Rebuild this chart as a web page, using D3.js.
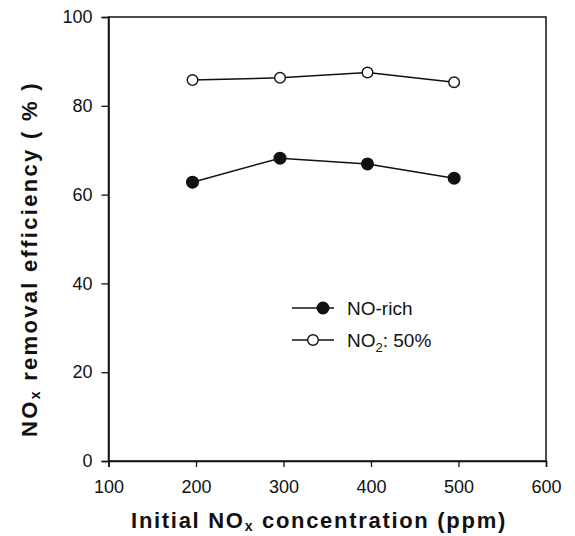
<!DOCTYPE html>
<html>
<head>
<meta charset="utf-8">
<script src="https://cdn.jsdelivr.net/npm/d3@7"></script>
<style>
body { margin: 0; background: #fff; }
text { font-family: Arial, "Liberation Sans", Helvetica, sans-serif; fill: #111; }
</style>
</head>
<body>
<div id="chart"></div>
<script>
// data
var concentration = [196, 296, 396, 495];
var noRich = [62.8, 68.2, 66.9, 63.7];
var no2Half = [85.8, 86.3, 87.5, 85.3];
var xTicks = [100, 200, 300, 400, 500, 600];
var yTicks = [0, 20, 40, 60, 80, 100];
var seriesNames = ["NO-rich", "NO2: 50%"];

var width = 575, height = 536;
var margin = {left: 108.5, right: 29, top: 17, bottom: 75};

var svg = d3.select("#chart").append("svg")
    .attr("width", width).attr("height", height);

var x = d3.scaleLinear().domain([100, 600]).range([margin.left, width - margin.right]);
var y = d3.scaleLinear().domain([0, 100]).range([height - margin.bottom, margin.top]);

// frame
svg.append("rect")
    .attr("x", x(100)).attr("y", y(100))
    .attr("width", x(600) - x(100)).attr("height", y(0) - y(100))
    .attr("fill", "none").attr("stroke", "#111").attr("stroke-width", 1.5);

var xAxis = svg.append("g")
    .attr("transform", "translate(0," + y(0) + ")")
    .call(d3.axisBottom(x).tickValues(xTicks).tickSize(6).tickPadding(13).tickFormat(d3.format("d")));
var yAxis = svg.append("g")
    .attr("transform", "translate(" + x(100) + ",0)")
    .call(d3.axisLeft(y).tickValues(yTicks).tickSize(7).tickPadding(9).tickFormat(d3.format("d")));

[xAxis, yAxis].forEach(function(g){
    g.select(".domain").attr("stroke", "#111").attr("stroke-width", 1.5);
    g.selectAll(".tick line").attr("stroke", "#111").attr("stroke-width", 1.3);
    g.selectAll(".tick text").attr("font-size", 18).attr("fill", "#111")
        .attr("font-family", "Arial, 'Liberation Sans', sans-serif");
});

// axis titles
var xt = svg.append("text")
    .attr("x", 319).attr("y", 528)
    .attr("text-anchor", "middle")
    .attr("font-size", 22).attr("font-weight", "bold")
    .attr("letter-spacing", 1.7);
xt.append("tspan").text("Initial NO");
xt.append("tspan").attr("font-size", 14).attr("dy", 3).text("x");
xt.append("tspan").attr("dy", -3).text(" concentration (ppm)");

var yt = svg.append("text")
    .attr("transform", "translate(37,259) rotate(-90)")
    .attr("text-anchor", "middle")
    .attr("font-size", 22).attr("font-weight", "bold")
    .attr("letter-spacing", 2.3);
yt.append("tspan").text("NO");
yt.append("tspan").attr("font-size", 14).attr("dy", 3).text("x");
yt.append("tspan").attr("dy", -3).text(" removal efficiency ( % )");

// series
var series = [
    {name: seriesNames[0], values: noRich, fill: "#111", r: 5.8},
    {name: seriesNames[1], values: no2Half, fill: "#fff", r: 5.3}
];

var line = d3.line()
    .x(function(d, i){ return x(concentration[i]); })
    .y(function(d){ return y(d); });

series.forEach(function(s){
    svg.append("path")
        .datum(s.values)
        .attr("d", line)
        .attr("fill", "none")
        .attr("stroke", "#111")
        .attr("stroke-width", 1.5);
    svg.selectAll(null)
        .data(s.values)
        .enter().append("circle")
        .attr("cx", function(d, i){ return x(concentration[i]); })
        .attr("cy", function(d){ return y(d); })
        .attr("r", s.r)
        .attr("fill", s.fill)
        .attr("stroke", "#111")
        .attr("stroke-width", 1.4);
});

// legend
var legend = svg.append("g").attr("transform", "translate(292,308)");
series.forEach(function(s, i){
    var g = legend.append("g").attr("transform", "translate(0," + (i * 32) + ")");
    g.append("line").attr("x1", 0).attr("x2", 42).attr("y1", 0).attr("y2", 0)
        .attr("stroke", "#111").attr("stroke-width", 1.5);
    g.append("circle").attr("cx", i === 0 ? 31 : 21).attr("cy", 0).attr("r", s.r)
        .attr("fill", s.fill).attr("stroke", "#111").attr("stroke-width", 1.4);
    var t = g.append("text").attr("x", 55).attr("y", 7).attr("font-size", 19);
    if (i === 0) {
        t.text(s.name);
    } else {
        t.append("tspan").text("NO");
        t.append("tspan").attr("font-size", 13).attr("dy", 5).text("2");
        t.append("tspan").attr("dy", -5).attr("dx", 0).text(": 50%");
    }
});
</script>
</body>
</html>
